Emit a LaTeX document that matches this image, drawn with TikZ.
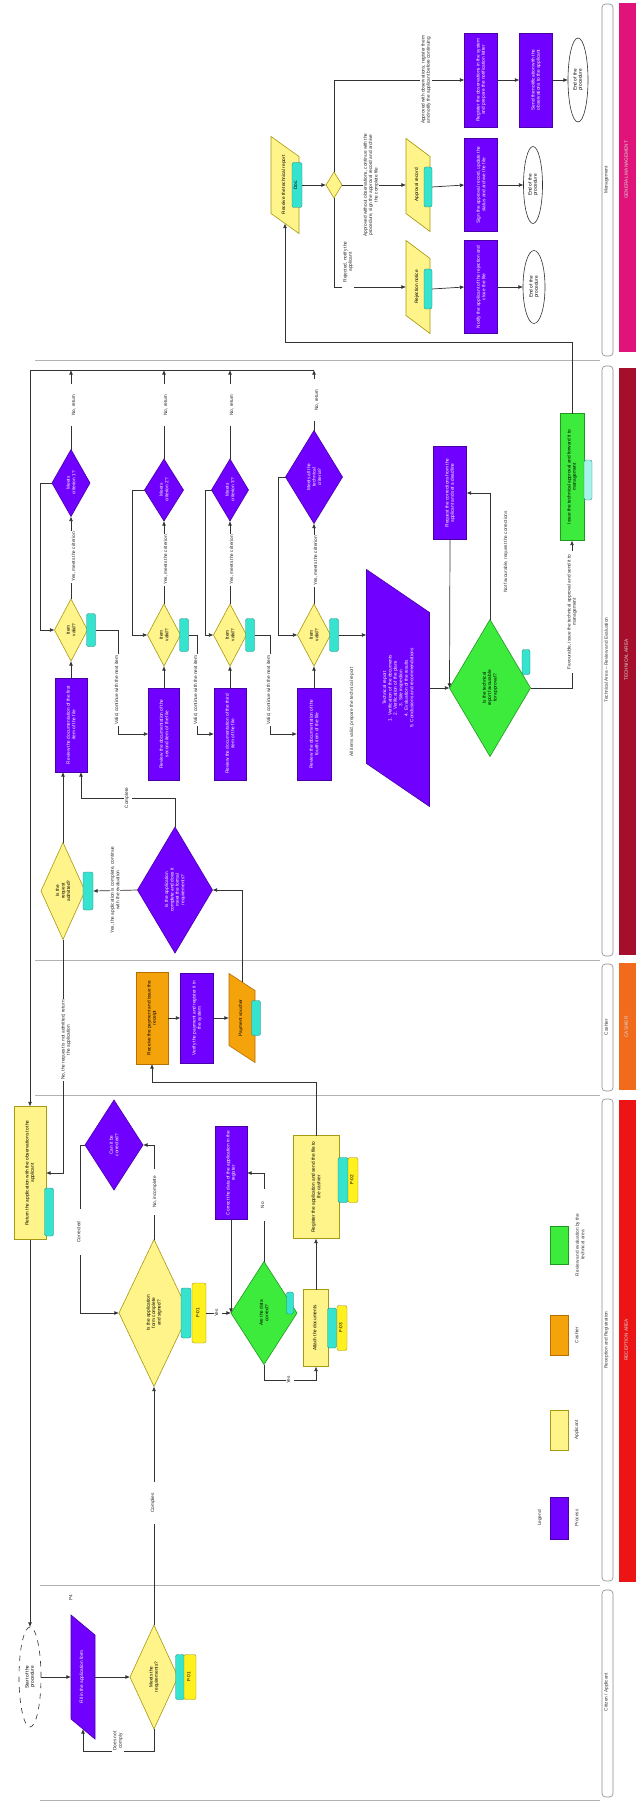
\documentclass[tikz,border=0pt]{standalone}
\usepackage{graphicx}
\usepackage{fontspec}
\setmainfont{Liberation Sans}
\usetikzlibrary{shapes.geometric,arrows.meta}
\definecolor{purp}{HTML}{7000FF}
\definecolor{purpdk}{HTML}{4A00A8}
\definecolor{yel}{HTML}{FFF48A}
\definecolor{yeldk}{HTML}{A89A10}
\definecolor{grn}{HTML}{3DEB3D}
\definecolor{grndk}{HTML}{1F9A1F}
\definecolor{org}{HTML}{F5A30A}
\definecolor{orgdk}{HTML}{B86F00}
\definecolor{tagc}{HTML}{36E3CF}
\definecolor{tagy}{HTML}{FFF01F}
\definecolor{barpink}{HTML}{E0137A}
\definecolor{bardred}{HTML}{A50F2B}
\definecolor{barorg}{HTML}{F26B1D}
\definecolor{barred}{HTML}{EC1414}
\definecolor{lnc}{HTML}{333333}
\newcommand\fsz{\fontsize{2.7pt}{3.1pt}\selectfont}
\newcommand\rt[2]{\rotatebox{90}{\parbox{\dimexpr0.02cm*#1\relax}{\centering\fsz #2}}}
\newcommand\datash[9]{%
  \path[#7] ({#2-#4/2},{#3-#5/2-#6/2}) -- ({#2+#4/2},{#3-#5/2+#6/2}) -- ({#2+#4/2},{#3+#5/2+#6/2}) -- ({#2-#4/2},{#3+#5/2-#6/2}) -- cycle;
  \node[shp, wh={#4}{#5}, #8] (#1) at (#2,#3) {#9};}
\newcommand\dtx[4]{\node[txtn,#4] (#1-t) at (#1) {\rt{#2}{#3}};}
\tikzset{
  wh/.style 2 args={minimum width=#1*0.02cm, minimum height=#2*0.02cm},
  shp/.style={inner sep=0pt, outer sep=0pt, line width=0.35pt},
  txtn/.style={inner sep=0pt},
  prc/.style={shp, rectangle, draw=purpdk, fill=purp, text=white},
  ylw/.style={shp, rectangle, draw=yeldk, fill=yel},
  orng/.style={shp, rectangle, draw=orgdk, fill=org},
  gbox/.style={shp, rectangle, draw=grndk, fill=grn},
  pdia/.style={shp, diamond, draw=purpdk, fill=purp},
  ydia/.style={shp, diamond, draw=yeldk, fill=yel},
  gdia/.style={shp, diamond, draw=grndk, fill=grn},
  term/.style={shp, ellipse, draw=lnc, fill=white},
  tagcy/.style={shp, rectangle, rounded corners=1.2pt, fill=tagc, draw=tagc!60!black, line width=0.2pt},
  tagye/.style={shp, rectangle, rounded corners=1.2pt, fill=tagy, draw=tagy!60!black, line width=0.2pt},
  conn/.style={draw=lnc, line width=0.4pt},
  arr/.style={conn, -{Latex[length=2.6pt,width=2.2pt]}},
  lbl/.style={inner sep=0.4pt, fill=white, text=black!85},
  lane/.style={draw=black!30, line width=0.5pt},
  strip/.style={draw=black!45, line width=0.35pt, rounded corners=2pt},
  hdr/.style={inner sep=0pt, text=black!80},
  bartxt/.style={inner sep=0pt, text=white!85!black},
  ydat/.style={fill=yel, draw=yeldk, line width=0.35pt},
  pdat/.style={fill=purp, draw=purpdk, line width=0.35pt},
  odat/.style={fill=org, draw=orgdk, line width=0.35pt},
}
\begin{document}
\begin{tikzpicture}[x=0.02cm,y=-0.02cm]
\useasboundingbox (0,0) rectangle (636,1804);
\fill[white] (0,0) rectangle (636,1804);
% ---------------- lanes
\draw[lane] (35,360) -- (600,360);
\draw[lane] (35,960) -- (600,960);
\draw[lane] (35,1095) -- (600,1095);
\draw[lane] (40,1585) -- (600,1585);
\draw[lane] (40,1800) -- (600,1800);
\draw[strip] (602,4) rectangle (613,356);
\draw[strip] (602,366) rectangle (613,956);
\draw[strip] (602,964) rectangle (613,1091);
\draw[strip] (602,1099) rectangle (613,1581);
\draw[strip] (602,1590) rectangle (613,1797);
\fill[barpink] (619,3) rectangle (636,352);
\fill[bardred] (619,368) rectangle (636,955);
\fill[barorg] (619,963) rectangle (636,1090);
\fill[barred] (619,1100) rectangle (636,1582);
\node[hdr] (H1) at (607.5,180) {\rt{120}{Management}};
\node[hdr] (H2) at (607.5,660) {\rt{220}{Technical Area -- Review and Evaluation}};
\node[hdr] (H3) at (607.5,1027) {\rt{100}{Cashier}};
\node[hdr] (H4) at (607.5,1340) {\rt{160}{Reception and Registration}};
\node[hdr] (H5) at (607.5,1692) {\rt{140}{Citizen / Applicant}};
\node[bartxt] (B1) at (627.5,170) {\rt{200}{GENERAL MANAGEMENT}};
\node[bartxt] (B2) at (627.5,660) {\rt{300}{TECHNICAL AREA}};
\node[bartxt] (B3) at (627.5,1027) {\rt{110}{CASHIER}};
\node[bartxt] (B4) at (627.5,1340) {\rt{260}{RECEPTION AREA}};
% ---------------- pink lane
\datash{P1}{285}{185}{28}{77}{20}{ydat}{}{\rt{68}{Receive the technical report}}
\node[tagcy, wh={10}{45}] (P1t) at (297,185) {\rt{38}{Doc.}};
\node[ydia, wh={16}{26}] (D1) at (334,185) {};
\node[prc, wh={33}{94}] (R1) at (481,80) {\rt{84}{Register the observations in the system and prepare the notification letter}};
\node[prc, wh={33}{94}] (R2) at (536,80) {\rt{84}{Send the notification with the observations to the applicant}};
\node[term, wh={20}{84}] (E1) at (578,80) {}; \dtx{E1}{60}{End of the\\procedure}{}
\datash{P2}{418}{185}{24}{75}{18}{ydat}{}{\rt{66}{Approval record}}
\node[tagcy, wh={8}{40}] (P2t) at (428,187) {};
\node[prc, wh={33}{93}] (R3) at (481,185) {\rt{84}{Sign the approval record, update the status and archive the file}};
\node[term, wh={19}{77}] (E2) at (533,185) {}; \dtx{E2}{55}{End of the\\procedure}{}
\datash{P3}{418}{287}{24}{75}{18}{ydat}{}{\rt{66}{Rejection notice}}
\node[tagcy, wh={8}{40}] (P3t) at (428,289) {};
\node[prc, wh={33}{93}] (R4) at (481,287) {\rt{84}{Notify the applicant of the rejection and close the file}};
\node[term, wh={22}{73}] (E3) at (534,287) {}; \dtx{E3}{55}{End of the\\procedure}{}
% ---------------- dark red lane
\coordinate (colL) at (30,370);
\coordinate (colR) at (314,370);
\node[pdia, wh={38}{67}] (PD1) at (71,483) {}; \dtx{PD1}{40}{Meets\\criterion 1?}{text=white}
\node[pdia, wh={39}{62}] (PD2) at (164,490) {}; \dtx{PD2}{40}{Meets\\criterion 2?}{text=white}
\node[pdia, wh={37}{62}] (PD3) at (230,490) {}; \dtx{PD3}{40}{Meets\\criterion 3?}{text=white}
\node[pdia, wh={57}{93}] (PD4) at (314,477) {}; \dtx{PD4}{55}{Meets all the\\technical\\criteria?}{text=white}
\node[ydia, wh={33}{62}] (YD1) at (71,630) {}; \dtx{YD1}{34}{Item\\valid?}{}
\node[tagcy, wh={9}{33}] (YD1t) at (91,630) {};
\node[ydia, wh={33}{62}] (YD2) at (164,635) {}; \dtx{YD2}{34}{Item\\valid?}{}
\node[tagcy, wh={9}{33}] (YD2t) at (184,635) {};
\node[ydia, wh={33}{62}] (YD3) at (230,635) {}; \dtx{YD3}{34}{Item\\valid?}{}
\node[tagcy, wh={9}{33}] (YD3t) at (250,635) {};
\node[ydia, wh={33}{62}] (YD4) at (314,635) {}; \dtx{YD4}{34}{Item\\valid?}{}
\node[tagcy, wh={9}{33}] (YD4t) at (334,635) {};
\node[prc, wh={32}{94}] (PR1) at (71,725) {\rt{84}{Review the documentation of the first item of the file}};
\node[prc, wh={31}{92}] (PR2) at (164,734) {\rt{82}{Review the documentation of the second item of the file}};
\node[prc, wh={32}{92}] (PR3) at (230,734) {\rt{82}{Review the documentation of the third item of the file}};
\node[prc, wh={34}{92}] (PR4) at (314,734) {\rt{82}{Review the documentation of the fourth item of the file}};
\datash{BP}{398}{688}{63}{194}{43}{pdat}{text=white}{\rt{180}{Technical report\\1. Verification of the documents\\2. Verification of the plans\\3. Site inspection\\4. Evaluation of the results\\5. Conclusions and recommendations}}
\node[gdia, wh={81}{137}] (GD) at (490,688) {}; \dtx{GD}{70}{Is the technical\\report favourable\\for approval?}{}
\node[tagcy, wh={8}{25}] (GDt) at (526,662) {};
\node[prc, wh={33}{93}] (PRR) at (450,493) {\rt{84}{Request the corrections from the applicant and set a deadline}};
\node[gbox, wh={24}{127}] (GB) at (572,477) {\rt{115}{Issue the technical approval and forward it to management}};
\node[tagcy, fill=tagc!45, wh={8}{40}] (GBt) at (588,480) {};
\node[ydia, wh={44}{97}] (YD0) at (63,891) {}; \dtx{YD0}{50}{Is the\\request\\admitted?}{}
\node[tagcy, wh={10}{38}] (YD0t) at (88,891) {};
\node[pdia, wh={75}{126}] (BD) at (175,890) {}; \dtx{BD}{70}{Is the application\\complete and does it\\meet the formal\\requirements?}{text=white}
% ---------------- orange lane
\node[orng, wh={32}{92}] (OR) at (152,1018) {\rt{82}{Receive the payment and issue the receipt}};
\node[prc, wh={33}{90}] (PO) at (197,1018) {\rt{80}{Verify the payment and register it in the system}};
\datash{OP}{242}{1018}{26}{72}{17}{odat}{}{\rt{62}{Payment voucher}}
\node[tagcy, wh={9}{35}] (OPt) at (256,1018) {};
% ---------------- red lane
\node[ylw, wh={32}{133}] (YB1) at (30,1173) {\rt{120}{Return the application with the observations to the applicant}};
\node[tagcy, wh={9}{48}] (YB1t) at (49,1212) {};
\node[pdia, wh={58}{90}] (PDR) at (114,1145) {}; \dtx{PDR}{45}{Can it be\\corrected?}{text=white}
\node[ydia, wh={70}{147}] (YDR) at (154,1313) {}; \dtx{YDR}{80}{Is the application\\form complete\\and signed?}{}
\node[tagcy, wh={10}{50}] (YDRc) at (186,1313) {};
\node[tagye, wh={14}{60}] (YDRy) at (199,1313) {\rt{50}{F-01}};
\node[gdia, wh={66}{103}] (GDR) at (264,1313) {}; \dtx{GDR}{55}{Are the data\\correct?}{}
\node[tagcy, wh={7}{22}] (GDRt) at (290,1303) {};
\node[prc, wh={32}{93}] (PRR2) at (231,1173) {\rt{84}{Correct the data of the application in the register}};
\node[ylw, wh={46}{103}] (YB2) at (316,1187) {\rt{94}{Register the application and send the file to the cashier}};
\node[tagcy, wh={10}{45}] (YB2c) at (343,1180) {};
\node[tagye, wh={10}{45}] (YB2y) at (353,1180) {\rt{40}{F-02}};
\node[ylw, wh={25}{77}] (YB3) at (316,1328) {\rt{68}{Attach the documents}};
\node[tagcy, wh={9}{40}] (YB3c) at (332,1328) {};
\node[tagye, wh={10}{45}] (YB3y) at (342,1328) {\rt{40}{F-03}};
% legend
\node[shp, rectangle, fill=grn, draw=grndk, wh={18}{38}] (LG1) at (559,1245) {};
\node[hdr] (LG1t) at (580,1245) {\rt{80}{Review and evaluation by the technical area}};
\node[shp, rectangle, fill=org, draw=orgdk, wh={18}{40}] (LG2) at (559,1335) {};
\node[hdr] (LG2t) at (578,1335) {\rt{60}{Cashier}};
\node[shp, rectangle, fill=yel, draw=yeldk, wh={18}{40}] (LG3) at (559,1430) {};
\node[hdr] (LG3t) at (578,1430) {\rt{60}{Applicant}};
\node[shp, rectangle, fill=purp, draw=purpdk, wh={18}{42}] (LG4) at (559,1518) {};
\node[hdr] (LG4t) at (578,1518) {\rt{60}{Process}};
\node[hdr] (LG0) at (541,1518) {\rt{60}{Legend}};
% ---------------- bottom lane
\node[term, wh={22}{100}, dashed] (E0) at (30,1677) {}; \dtx{E0}{70}{Start of the\\procedure}{}
\datash{PB}{83}{1677}{24}{104}{20}{pdat}{text=white}{\rt{95}{Fill in the application form}}
\node[hdr] (PBl) at (72,1598) {\rt{14}{P4}};
\node[ydia, wh={48}{104}] (Yb) at (154,1677) {}; \dtx{Yb}{55}{Meets the\\requirements?}{}
\node[tagcy, wh={9}{45}] (Ybc) at (180,1677) {};
\node[tagye, wh={12}{45}] (Yby) at (190,1677) {\rt{40}{F-01}};
% ---------------- connectors
\draw[arr] (P1t.east) -- (D1.west);
\draw[arr] (D1.north) |- (R1.west);
\draw[arr] (D1.east) -- (P2.west);
\draw[arr] (D1.south) |- (P3.west);
\draw[arr] (R1.east) -- (R2.west);
\draw[arr] (R2.east) -- (E1.west);
\draw[arr] (P2t.east) -- (R3.west);
\draw[arr] (R3.east) -- (E2.west);
\draw[arr] (P3t.east) -- (R4.west);
\draw[arr] (R4.east) -- (E3.west);
\draw[arr] (GB.north) -- ++(0,-71) -| (P1.south);
\draw[conn] (colR) -- (colL);
\draw[arr] (colL) -- (YB1.north);
\draw[arr] (PD1.north) -- (PD1.north |- colL);
\draw[arr] (PD2.north) -- (PD2.north |- colL);
\draw[arr] (PD3.north) -- (PD3.north |- colL);
\draw[arr] (PD4.north) -- (PD4.north |- colL);
\draw[arr] (YD1.north) -- (PD1.south);
\draw[arr] (YD2.north) -- (PD2.south);
\draw[arr] (YD3.north) -- (PD3.south);
\draw[arr] (YD4.north) -- (PD4.south);
\draw[arr] (PD1.west) -- ++(-12,0) |- (YD1.west);
\draw[arr] (PD2.west) -- ++(-12.5,0) |- (YD2.west);
\draw[arr] (PD3.west) -- ++(-6.5,0) |- (YD3.west);
\draw[arr] (PD4.west) -- ++(-7.5,0) |- (YD4.west);
\draw[arr] (PR1.north) -- (YD1.south);
\draw[arr] (PR2.north) -- (YD2.south);
\draw[arr] (PR3.north) -- (YD3.south);
\draw[arr] (PR4.north) -- (YD4.south);
\draw[arr] (YD1t.east) -- ++(22.5,0) |- (PR2.west);
\draw[arr] (YD2t.east) -- ++(8.5,0) |- (PR3.west);
\draw[arr] (YD3t.east) -- ++(15.5,0) |- (PR4.west);
\draw[arr] (YD4t.east) -- (YD4t.east -| BP.west);
\draw[arr] (YD0.north) -- (YD0.north |- PR1.south);
\draw[arr] (BD.north) -- ++(0,-29) -| ([xshift=0.2cm]PR1.south);
\draw[arr] (BD.west) -- (YD0t.east);
\draw[arr] (OP.north) |- (BD.east);
\draw[arr] (YD0.south) |- (YB1.east);
\draw[arr] (BP.east) -- (GD.west);
\draw[arr] (GD.north) |- (PRR.east);
\draw[arr] (PRR.south) -- (GD.west);
\draw[arr] (GD.east) -| (GB.south);
\draw[arr] (OR.east) -- (PO.west);
\draw[arr] (PO.east) -- (OP.west);
\draw[arr] (YB2.north) -- ++(0,-53.5) -| (OR.south);
\draw[arr] (YB1.south) -- (E0.north);
\draw[arr] (YDR.north) |- (PDR.east);
\draw[arr] (PDR.west) -- ++(-5,0) |- (YDR.west);
\draw[arr] (YDRy.east) -- (GDR.west);
\draw[arr] (GDR.north) |- (PRR2.east);
\draw[arr] (PRR2.south) -- (GDR.west);
\draw[arr] (GDR.south) -- ++(0,15.5) -| (YB3.south);
\draw[arr] (YB3.north) -- (YB2.south);
\draw[arr] (E0.east) -- (PB.west);
\draw[arr] (PB.east) -- (Yb.west);
\draw[arr] (Yb.south) -- ++(0,22) -| (PB.south);
\draw[arr] (Yb.north) -- (YDR.south);
% ---------------- connector labels
\node[lbl] (L1) at (426,80) {\rt{88}{Approved with observations, register them and notify the applicant before continuing}};
\node[lbl] (L2) at (371,185) {\rt{105}{Approved without observations, continue with the procedure, sign the approval record and archive the complete file}};
\node[lbl] (L3) at (348,262) {\rt{55}{Rejected, notify the applicant}};
\node[lbl] (L4) at (75,405) {\rt{40}{No, return}};
\node[lbl] (L5) at (167,405) {\rt{40}{No, return}};
\node[lbl] (L6) at (233,405) {\rt{40}{No, return}};
\node[lbl] (L7) at (318,400) {\rt{40}{No, return}};
\node[lbl] (L8) at (75,557) {\rt{50}{Yes, meets the criterion}};
\node[lbl] (L9) at (167,560) {\rt{50}{Yes, meets the criterion}};
\node[lbl] (L10) at (233,560) {\rt{50}{Yes, meets the criterion}};
\node[lbl] (L11) at (317,561) {\rt{50}{Yes, meets the criterion}};
\node[lbl] (L12) at (118,690) {\rt{70}{Valid, continue with the next item}};
\node[lbl] (L13) at (197,690) {\rt{70}{Valid, continue with the next item}};
\node[lbl] (L14) at (270,690) {\rt{70}{Valid, continue with the next item}};
\node[hdr] (L15) at (353,712) {\rt{130}{All items valid, prepare the technical report}};
\node[lbl] (L16) at (115,890) {\rt{90}{Yes, the application is complete, continue with the evaluation}};
\node[lbl] (L17) at (66,1040) {\rt{80}{No, the request is not admitted, return the application}};
\node[lbl] (L18) at (128,798) {\rt{45}{Complete}};
\node[hdr] (L19) at (507,552) {\rt{85}{Not favourable, request the corrections}};
\node[lbl] (L20) at (572,612) {\rt{120}{Favourable, issue the technical approval and send it to management}};
\node[lbl] (L21) at (156,1192) {\rt{45}{No, incomplete}};
\node[lbl] (L22) at (80,1232) {\rt{45}{Corrected}};
\node[lbl] (L23) at (218,1313) {\rt{40}{Yes}};
\node[lbl] (L24) at (264,1205) {\rt{30}{No}};
\node[lbl] (L25) at (290,1380) {\rt{30}{Yes}};
\node[lbl] (L26) at (154,1503) {\rt{40}{Complies}};
\node[lbl] (L27) at (118,1741) {\rt{35}{Does not comply}};
\end{tikzpicture}
\end{document}
